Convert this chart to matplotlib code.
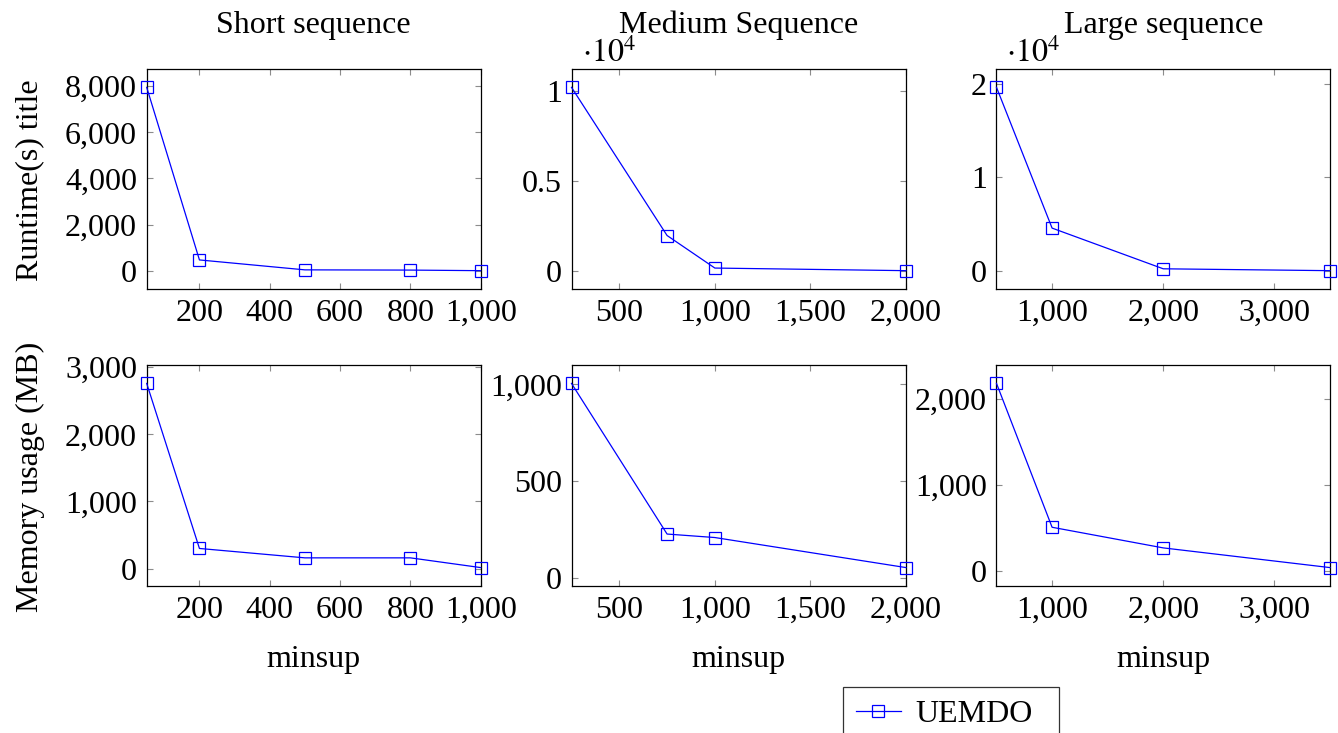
import matplotlib
matplotlib.use("Agg")
import matplotlib.pyplot as plt
from matplotlib.ticker import FuncFormatter, FixedLocator

plt.rcParams['font.family'] = ['Liberation Serif', 'DejaVu Serif']
plt.rcParams['mathtext.fontset'] = 'stix'

# ---- data ----
titles = ["Short sequence", "Medium Sequence", "Large sequence"]
short_x = [50, 200, 500, 800, 1000]
medium_x = [250, 750, 1000, 2000]
large_x = [500, 1000, 2000, 3500]

short_runtime = [7950, 470, 40, 30, 5]
medium_runtime = [10200, 1960, 150, 5]
large_runtime = [19650, 4570, 210, 10]

short_memory = [2760, 300, 160, 160, 15]
medium_memory = [1005, 228, 210, 55]
large_memory = [2180, 507, 267, 38]

short_xticks = [200, 400, 600, 800, 1000]
medium_xticks = [500, 1000, 1500, 2000]
large_xticks = [1000, 2000, 3000]

runtime_yticks = [[0, 2000, 4000, 6000, 8000], [0, 5000, 10000], [0, 10000, 20000]]
memory_yticks = [[0, 1000, 2000, 3000], [0, 500, 1000], [0, 1000, 2000]]
runtime_sci = [False, True, True]

series_name = "UEMDO"
ylabels = ["Runtime(s) title", "Memory usage (MB)"]
xlabel = "minsup"

W, H = 1338, 733
fig = plt.figure(figsize=(W / 100, H / 100), dpi=100)

col_px = [(146.7, 480.7), (571.5, 906), (996.5, 1330)]
row_px = [(69, 289), (365, 586)]

xs = [short_x, medium_x, large_x]
xticks = [short_xticks, medium_xticks, large_xticks]
ys = [[short_runtime, medium_runtime, large_runtime],
      [short_memory, medium_memory, large_memory]]
yticks = [runtime_yticks, memory_yticks]

FS = 23
comma = FuncFormatter(lambda v, p: f"{int(round(v)):,}")
sci = FuncFormatter(lambda v, p: f"{v/1e4:g}")

handle = None
for r in range(2):
    for c in range(3):
        l, rr = col_px[c]
        t, b = row_px[r]
        ax = fig.add_axes([l / W, 1 - b / H, (rr - l) / W, (b - t) / H])
        x = xs[c]
        y = ys[r][c]
        handle, = ax.plot(x, y, color=(0, 0, 1), lw=0.9, marker='s', ms=8,
                          mfc='none', mec=(0, 0, 1), mew=0.9, clip_on=False,
                          zorder=5)
        ax.set_xlim(min(x), max(x))
        lo, hi = min(y), max(y)
        rg = hi - lo
        ax.set_ylim(lo - 0.1 * rg, hi + 0.1 * rg)
        ax.xaxis.set_major_locator(FixedLocator(xticks[c]))
        ax.yaxis.set_major_locator(FixedLocator(yticks[r][c]))
        ax.xaxis.set_major_formatter(comma)
        if r == 0 and runtime_sci[c]:
            ax.yaxis.set_major_formatter(sci)
        else:
            ax.yaxis.set_major_formatter(comma)
        ax.tick_params(direction='in', length=4.5, width=0.8, color='0.55',
                       top=True, right=True, labelsize=FS, pad=7)
        for s in ax.spines.values():
            s.set_linewidth(0.9)
            s.set_color('black')
        cx = (l + rr) / 2
        if r == 0:
            fig.text(cx / W, 1 - 33 / H, titles[c], ha='center', va='baseline', fontsize=FS)
            if runtime_sci[c]:
                fig.text((l + 10) / W, 1 - 62 / H, r"$\cdot 10^{4}$", ha='left',
                         va='baseline', fontsize=FS)
        else:
            fig.text(cx / W, 1 - 660 / H, xlabel, ha='center', va='center', fontsize=FS)

fig.text(30 / W, 1 - 180 / H, ylabels[0], rotation=90, ha='center', va='center', fontsize=FS)
fig.text(30 / W, 1 - 477 / H, ylabels[1], rotation=90, ha='center', va='center', fontsize=FS)

leg_h = 60
leg = fig.legend([handle], [series_name], loc='upper left',
                 bbox_to_anchor=(843 / W, 1 - (687 + leg_h) / H, 216 / W, leg_h / H),
                 mode='expand', fontsize=FS,
                 frameon=True, fancybox=False, edgecolor='black',
                 handlelength=1.4, borderpad=0.4, handletextpad=0.45,
                 borderaxespad=0)
leg.get_frame().set_linewidth(0.9)

fig.savefig("out.png", dpi=100)
